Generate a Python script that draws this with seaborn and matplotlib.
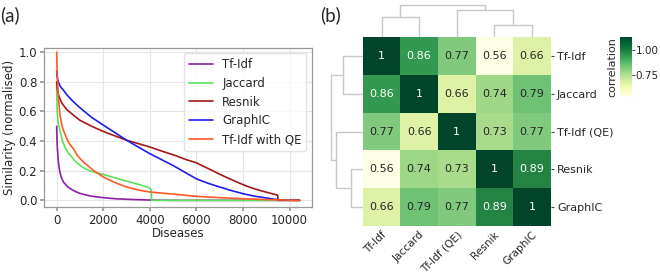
import numpy as np
import pandas as pd
import matplotlib
matplotlib.use("Agg")
import matplotlib.pyplot as plt
import matplotlib.colors as mcolors
import matplotlib.cm as mcm
import seaborn as sns

# ---------------- data: panel (a) ----------------
series_names = ["Tf-Idf", "Jaccard", "Resnik", "GraphIC", "Tf-Idf with QE"]

x_tfidf = [0, 20, 40, 80, 140, 200, 285, 450, 570, 800, 1000, 1250, 1500, 2000, 2500, 3000, 4000, 5000, 10430]
y_tfidf = [0.50, 0.38, 0.33, 0.25, 0.19, 0.155, 0.125, 0.095, 0.08, 0.06, 0.047, 0.036, 0.028, 0.018, 0.011, 0.007, 0.002, 0.0, 0.0]

x_jaccard = [0, 15, 30, 70, 143, 250, 357, 500, 643, 800, 1000, 1200, 1430, 1700, 2000, 2500, 3000, 3500, 3860, 4000, 4060, 4075, 10430]
y_jaccard = [0.78, 0.65, 0.58, 0.52, 0.47, 0.40, 0.36, 0.32, 0.293, 0.265, 0.237, 0.215, 0.199, 0.186, 0.175, 0.152, 0.13, 0.108, 0.092, 0.082, 0.072, 0.0, 0.0]

x_resnik = [0, 30, 100, 200, 285, 450, 714, 1000, 1500, 2000, 2500, 3000, 3500, 4000, 4500, 5140, 5500, 6000, 6500, 7000, 7500, 8000, 8350, 8700, 9000, 9490, 9500, 10430]
y_resnik = [0.80, 0.75, 0.70, 0.665, 0.643, 0.61, 0.576, 0.54, 0.50, 0.465, 0.435, 0.406, 0.383, 0.36, 0.333, 0.30, 0.278, 0.253, 0.215, 0.176, 0.14, 0.106, 0.085, 0.068, 0.055, 0.035, 0.0, 0.0]

x_graphic = [0, 15, 50, 120, 200, 285, 450, 714, 1000, 1500, 2000, 2500, 3000, 3500, 4000, 4500, 5000, 5500, 6000, 6500, 7000, 7500, 8000, 8500, 9000, 9500, 10430]
y_graphic = [0.87, 0.84, 0.81, 0.78, 0.76, 0.745, 0.71, 0.666, 0.625, 0.56, 0.508, 0.457, 0.406, 0.36, 0.315, 0.275, 0.235, 0.19, 0.145, 0.115, 0.09, 0.066, 0.045, 0.028, 0.016, 0.004, 0.0]

x_tfidf_qe = [0, 15, 30, 70, 143, 220, 285, 430, 550, 714, 900, 1140, 1570, 2000, 2500, 3000, 3500, 4000, 5140, 6000, 7000, 8000, 9000, 10430]
y_tfidf_qe = [1.0, 0.90, 0.84, 0.70, 0.575, 0.51, 0.474, 0.418, 0.38, 0.35, 0.30, 0.26, 0.203, 0.158, 0.12, 0.09, 0.07, 0.056, 0.04, 0.027, 0.018, 0.011, 0.005, 0.0]

line_colors = ["#8E1FA3", "#5CE05C", "#A31818", "#1E1EEB", "#FF5A28"]

# ---------------- data: panel (b) ----------------
method_labels = ["Tf-Idf", "Jaccard", "Tf-Idf (QE)", "Resnik", "GraphIC"]
corr_tfidf    = [1.00, 0.86, 0.77, 0.56, 0.66]
corr_jaccard  = [0.86, 1.00, 0.66, 0.74, 0.79]
corr_tfidf_qe = [0.77, 0.66, 1.00, 0.73, 0.77]
corr_resnik   = [0.56, 0.74, 0.73, 1.00, 0.89]
corr_graphic  = [0.66, 0.79, 0.77, 0.89, 1.00]
cbar_ticks = [0.75, 1.00]

# ---------------- styling ----------------
sns.set_theme(style="white")
plt.rcParams["font.family"] = ["DejaVu Sans"]
W, H = 660, 274

corr_df = pd.DataFrame([corr_tfidf, corr_jaccard, corr_tfidf_qe, corr_resnik, corr_graphic],
                       index=method_labels, columns=method_labels)

g = sns.clustermap(corr_df, cmap="YlGn", vmin=0.56, vmax=1.0,
                   annot=True, fmt=".2g", annot_kws={"size": 8},
                   figsize=(W / 100, H / 100),
                   tree_kws={"colors": "#c8c8c8", "linewidths": 1.0},
                   cbar_pos=None)
fig = g.figure
fig.set_dpi(100)

def frac(x0, y0, x1, y1):
    return [x0 / W, 1 - y1 / H, (x1 - x0) / W, (y1 - y0) / H]

g.ax_heatmap.set_position(frac(362.7, 37.3, 550.7, 225.7))
g.ax_col_dendrogram.set_position(frac(362.7, 3.4, 550.7, 37.3))
g.ax_row_dendrogram.set_position(frac(329.4, 37.3, 362.7, 225.7))

hm = g.ax_heatmap
hm.set_xlabel("")
hm.set_ylabel("")
hm.tick_params(axis="y", labelsize=8, length=2.5, width=0.8, color="#444444", pad=2)
hm.tick_params(axis="x", labelsize=7.6, length=2, width=0.8, color="#444444", pad=1)
plt.setp(hm.get_xticklabels(), rotation=45, ha="right", rotation_mode="anchor")
plt.setp(hm.get_yticklabels(), rotation=0)

# colorbar
cax = fig.add_axes(frac(620, 36.7, 631.7, 96.7))
sm = mcm.ScalarMappable(norm=mcolors.Normalize(0.533, 1.133), cmap="YlGn")
cb = fig.colorbar(sm, cax=cax, ticks=cbar_ticks, format="%.2f")
cb.outline.set_visible(False)
cax.tick_params(labelsize=7.5, length=2, width=0.6, pad=1)
cb.set_label("correlation", fontsize=8, labelpad=2)
cax.yaxis.set_label_position("left")

# ---------------- panel (a) ----------------
frames = []
for name, xs, ys in zip(series_names,
                        [x_tfidf, x_jaccard, x_resnik, x_graphic, x_tfidf_qe],
                        [y_tfidf, y_jaccard, y_resnik, y_graphic, y_tfidf_qe]):
    frames.append(pd.DataFrame({"Diseases": xs, "Similarity": ys, "Method": name}))
line_df = pd.concat(frames, ignore_index=True)

with sns.axes_style("whitegrid"):
    ax = fig.add_axes(frac(44.3, 47.7, 311.7, 207.3))
sns.lineplot(data=line_df, x="Diseases", y="Similarity", hue="Method",
             hue_order=series_names, palette=line_colors, estimator=None,
             sort=False, linewidth=1.2, ax=ax)
ax.set_xlim(-530, 10950)
ax.set_ylim(-0.047, 1.03)
ax.set_xticks([0, 2000, 4000, 6000, 8000, 10000])
ax.set_yticks([0.0, 0.2, 0.4, 0.6, 0.8, 1.0])
ax.set_xlabel("Diseases", fontsize=8.5, labelpad=0)
ax.set_ylabel("Similarity (normalised)", fontsize=8.5, labelpad=2)
ax.tick_params(axis="both", labelsize=8.5, length=3, color="#999999", pad=2)
ax.tick_params(axis="both", which="both", bottom=True, left=True)
ax.grid(True, color="#e6e6e6", linewidth=0.8)
for s in ax.spines.values():
    s.set_color("#999999")
    s.set_linewidth(0.9)
leg = ax.legend(loc="upper right", fontsize=8.5, frameon=True, title=None,
                borderaxespad=0.45)
leg.get_frame().set_edgecolor("#dddddd")

fig.text(0 / W, 1 - 15 / H, "(a)", fontsize=13.5, family=["Lato", "DejaVu Sans"], va="center")
fig.text(320 / W, 1 - 15 / H, "(b)", fontsize=13.5, family=["Lato", "DejaVu Sans"], va="center")

fig.savefig("out.png", dpi=100)
